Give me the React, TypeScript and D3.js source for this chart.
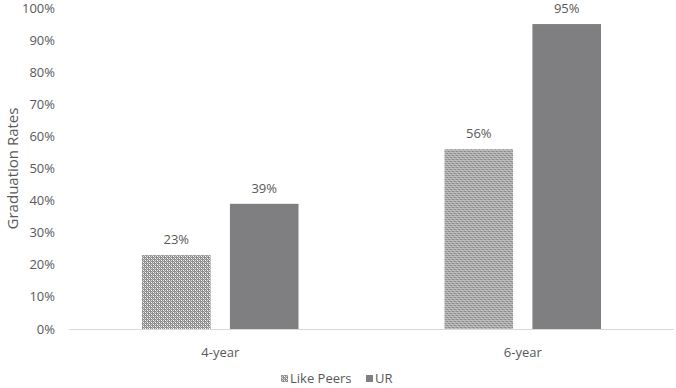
import { useRef, useEffect } from "react";
import * as d3 from "d3";

const categories = ["4-year", "6-year"];
const seriesNames = ["Like Peers", "UR"];
const likePeers = [0.23, 0.56];
const ur = [0.39, 0.95];
const yTicks = [0, 0.1, 0.2, 0.3, 0.4, 0.5, 0.6, 0.7, 0.8, 0.9, 1.0];

export default function App() {
  const chartRef = useRef<HTMLDivElement>(null);

  useEffect(() => {
    if (!chartRef.current) return;
    d3.select(chartRef.current).selectAll("*").remove();

    const width = 676;
    const height = 388;
    const margin = { top: 8, right: 2, bottom: 59, left: 69 };
    const font = "'Open Sans', 'Noto Sans', sans-serif";
    const textColor = "#595959";

    const svg = d3
      .select(chartRef.current)
      .append("svg")
      .attr("width", width)
      .attr("height", height)
      .style("display", "block");

    // checkered pattern for Like Peers
    const defs = svg.append("defs");
    const pat = defs
      .append("pattern")
      .attr("id", "checker")
      .attr("patternUnits", "userSpaceOnUse")
      .attr("width", 4)
      .attr("height", 4);
    pat.append("rect").attr("width", 4).attr("height", 4).attr("fill", "#8c8c8c");
    pat.append("rect").attr("x", 0).attr("y", 0).attr("width", 1).attr("height", 1).attr("fill", "#ffffff");
    pat.append("rect").attr("x", 2).attr("y", 2).attr("width", 1).attr("height", 1).attr("fill", "#ffffff");
    pat.append("rect").attr("x", 2).attr("y", 0).attr("width", 1).attr("height", 1).attr("fill", "#d9d9d9");
    pat.append("rect").attr("x", 0).attr("y", 2).attr("width", 1).attr("height", 1).attr("fill", "#d9d9d9");
    pat.append("rect").attr("x", 1).attr("y", 1).attr("width", 1).attr("height", 1).attr("fill", "#bfbfbf");
    pat.append("rect").attr("x", 3).attr("y", 3).attr("width", 1).attr("height", 1).attr("fill", "#bfbfbf");

    const fills = ["url(#checker)", "#7f7f81"];

    const x0 = d3
      .scaleBand()
      .domain(categories)
      .range([margin.left, width - margin.right])
      .paddingInner(0)
      .paddingOuter(0);

    const innerPad = 73;
    const x1 = d3
      .scaleBand()
      .domain(seriesNames)
      .range([innerPad, x0.bandwidth() - innerPad])
      .paddingInner(0.22);

    const y = d3
      .scaleLinear()
      .domain([0, 1])
      .range([height - margin.bottom, margin.top]);

    // y tick labels
    svg
      .append("g")
      .selectAll("text")
      .data(yTicks)
      .enter()
      .append("text")
      .attr("x", 55)
      .attr("y", (d) => y(d))
      .attr("dy", "0.35em")
      .attr("text-anchor", "end")
      .attr("font-family", font)
      .attr("font-size", "13px")
      .attr("fill", textColor)
      .text((d) => `${Math.round(d * 100)}%`);

    // y axis title
    svg
      .append("text")
      .attr("transform", `translate(13,${(y(0) + y(1)) / 2}) rotate(-90)`)
      .attr("text-anchor", "middle")
      .attr("dy", "0.35em")
      .attr("font-family", font)
      .attr("font-size", "15px")
      .attr("fill", textColor)
      .text("Graduation Rates");

    const rows = categories.map((c, i) => ({
      category: c,
      values: [likePeers[i], ur[i]],
    }));

    const groups = svg
      .selectAll("g.group")
      .data(rows)
      .enter()
      .append("g")
      .attr("class", "group")
      .attr("transform", (d) => `translate(${x0(d.category)},0)`);

    groups
      .selectAll("rect")
      .data((d) => d.values.map((v, j) => ({ v, s: seriesNames[j], j })))
      .enter()
      .append("rect")
      .attr("x", (d) => x1(d.s) ?? 0)
      .attr("y", (d) => y(d.v))
      .attr("width", x1.bandwidth())
      .attr("height", (d) => y(0) - y(d.v))
      .attr("fill", (d) => fills[d.j]);

    groups
      .selectAll("text")
      .data((d) => d.values.map((v, j) => ({ v, s: seriesNames[j] })))
      .enter()
      .append("text")
      .attr("x", (d) => (x1(d.s) ?? 0) + x1.bandwidth() / 2)
      .attr("y", (d) => y(d.v) - 11)
      .attr("text-anchor", "middle")
      .attr("font-family", font)
      .attr("font-size", "13px")
      .attr("fill", textColor)
      .text((d) => `${Math.round(d.v * 100)}%`);

    // baseline
    svg
      .append("line")
      .attr("x1", margin.left)
      .attr("x2", width - margin.right)
      .attr("y1", y(0) + 0.5)
      .attr("y2", y(0) + 0.5)
      .attr("stroke", "#d9d9d9")
      .attr("stroke-width", 1);

    // category labels
    svg
      .append("g")
      .selectAll("text")
      .data(categories)
      .enter()
      .append("text")
      .attr("x", (d) => (x0(d) ?? 0) + x0.bandwidth() / 2)
      .attr("y", y(0) + 23)
      .attr("dy", "0.35em")
      .attr("text-anchor", "middle")
      .attr("font-family", font)
      .attr("font-size", "13px")
      .attr("fill", textColor)
      .text((d) => d);

    // legend
    const legendY = 378;
    const legendPos = [281, 366];
    const legend = svg.append("g");
    seriesNames.forEach((name, i) => {
      legend
        .append("rect")
        .attr("x", legendPos[i])
        .attr("y", legendY - 3)
        .attr("width", 7)
        .attr("height", 7)
        .attr("fill", fills[i]);
      legend
        .append("text")
        .attr("x", legendPos[i] + 9)
        .attr("y", legendY)
        .attr("dy", "0.35em")
        .attr("font-family", font)
        .attr("font-size", "13px")
        .attr("fill", textColor)
        .text(name);
    });
  }, []);

  return (
    <div style={{ position: "absolute", left: 0, top: 0 }}>
      <div ref={chartRef}></div>
    </div>
  );
}
